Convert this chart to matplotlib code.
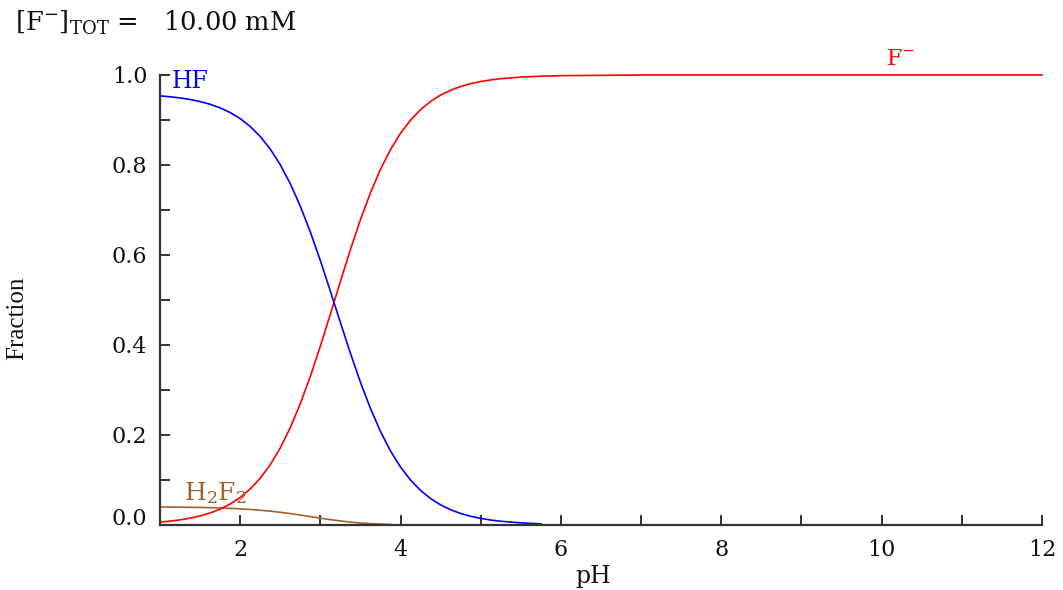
import matplotlib
matplotlib.use("Agg")
import matplotlib.pyplot as plt
from matplotlib.ticker import MultipleLocator
from matplotlib.transforms import ScaledTranslation

plt.rcParams['font.family'] = ['DejaVu Serif']
plt.rcParams['mathtext.fontset'] = 'dejavuserif'

# pH grid of the speciation table
ph = [1.000, 1.125, 1.250, 1.375, 1.500, 1.625, 1.750, 1.875,
      2.000, 2.125, 2.250, 2.375, 2.500, 2.625, 2.750, 2.875,
      3.000, 3.125, 3.250, 3.375, 3.500, 3.625, 3.750, 3.875,
      4.000, 4.125, 4.250, 4.375, 4.500, 4.625, 4.750, 4.875,
      5.000, 5.125, 5.250, 5.500, 5.750, 6.000,
      7.0, 8.0, 9.0, 10.0, 11.0, 12.0]

# fraction of total fluoride in each species
frac_f = [0.0064, 0.0086, 0.0114, 0.0152, 0.0201, 0.0267, 0.0352, 0.0465,
          0.0611, 0.0799, 0.1038, 0.1339, 0.1712, 0.2162, 0.2694, 0.3302,
          0.3973, 0.4685, 0.5410, 0.6119, 0.6783, 0.7381, 0.7903, 0.8343,
          0.8705, 0.8998, 0.9230, 0.9412, 0.9553, 0.9661, 0.9744, 0.9807,
          0.9854, 0.9890, 0.9918, 0.9953, 0.9974, 0.9985,
          1.0, 1.0, 1.0, 1.0, 1.0, 1.0]
frac_hf = [0.9536, 0.9516, 0.9491, 0.9455, 0.9410, 0.9349, 0.9269, 0.9166,
           0.9031, 0.8857, 0.8634, 0.8354, 0.8006, 0.7585, 0.7085, 0.6512,
           0.5876, 0.5196, 0.4500, 0.3817, 0.3172, 0.2589, 0.2078, 0.1645,
           0.1287, 0.0998, 0.0768, 0.0587, 0.0447, 0.0339, 0.0256, 0.0193,
           0.0146, 0.0110, 0.0083, 0.0047, 0.0026]
frac_h2f2 = [0.0400, 0.0398, 0.0396, 0.0393, 0.0390, 0.0385, 0.0378, 0.0370,
             0.0359, 0.0345, 0.0328, 0.0307, 0.0282, 0.0253, 0.0221, 0.0187,
             0.0152, 0.0119, 0.0089, 0.0064, 0.0044, 0.0030, 0.0019, 0.0012]

c_f = '#ff0000'
c_hf = '#0000ff'
c_h2f2 = '#a0612d'
axis_col = '#333333'
text_col = '#111111'

fig = plt.figure(figsize=(10.63, 5.90), dpi=100)
ax = fig.add_axes([0.1505, 0.1102, 0.8297, 0.7627])

ax.plot(ph, frac_f, color=c_f, lw=1.2, clip_on=False, zorder=3)
ax.plot(ph[:len(frac_hf)], frac_hf, color=c_hf, lw=1.2, zorder=3)
ax.plot(ph[:len(frac_h2f2)], frac_h2f2, color=c_h2f2, lw=1.2, zorder=2)

ax.set_xlim(1, 12)
ax.set_ylim(0, 1.0)

for side in ('top', 'right'):
    ax.spines[side].set_visible(False)
for side in ('left', 'bottom'):
    ax.spines[side].set_color(axis_col)
    ax.spines[side].set_linewidth(1.6)
    ax.spines[side].set_zorder(4)

ax.xaxis.set_minor_locator(MultipleLocator(1))
ax.yaxis.set_minor_locator(MultipleLocator(0.1))
ax.set_xticks([2, 4, 6, 8, 10, 12])
ax.set_yticks([0.0, 0.2, 0.4, 0.6, 0.8, 1.0])
ax.set_yticklabels(['0.0', '0.2', '0.4', '0.6', '0.8', '1.0'])

ax.tick_params(which='both', direction='in', length=7, width=1.4,
               color=axis_col, labelsize=16, labelcolor=text_col)
ax.tick_params(axis='y', which='both', pad=9)
ax.tick_params(axis='x', which='both', pad=10)

# lift the "0.0" label clear of the x axis line
zero_lbl = ax.get_yticklabels()[0]
zero_lbl.set_transform(zero_lbl.get_transform()
                       + ScaledTranslation(0, 6 / 72, fig.dpi_scale_trans))

ax.set_xlabel('pH', fontsize=17, color=text_col)
ax.xaxis.set_label_coords(0.4915, -0.09)
ax.set_ylabel('Fraction', fontsize=18, color=text_col,
              family=['Liberation Serif'])
ax.yaxis.set_label_coords(-0.1497, 0.46)

ax.text(1.15, 0.985, 'HF', color=c_hf, fontsize=17, ha='left', va='center')
ax.text(10.05, 1.035, r'F$^{-}$', color=c_f, fontsize=16, ha='left',
        va='center', clip_on=False)
ax.text(1.3, 0.07, r'H$_2$F$_2$', color=c_h2f2, fontsize=18, ha='left',
        va='center')

fig.text(0.014, 0.962, r'[F$^{-}$]$_{\mathrm{TOT}}$ =   10.00 mM',
         fontsize=18.5, ha='left', va='center', color=text_col)

fig.savefig('out.png', dpi=100)
